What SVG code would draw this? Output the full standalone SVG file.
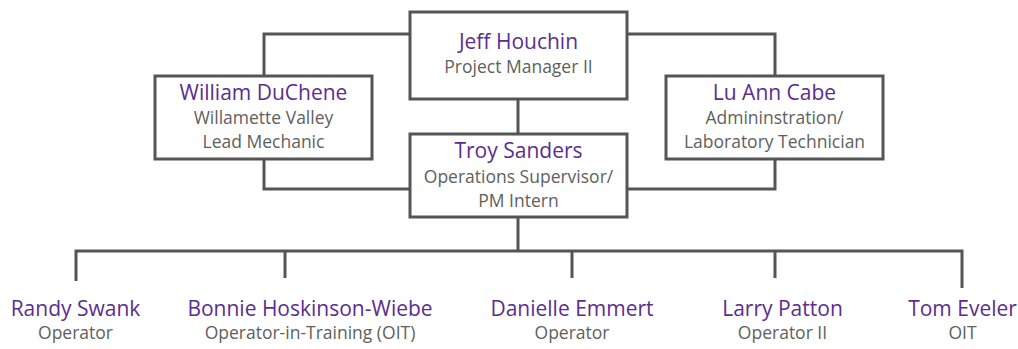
<svg xmlns="http://www.w3.org/2000/svg" width="1018" height="349" viewBox="0 0 1018 349">
  <style>
    .box { fill: #ffffff; stroke: #555555; stroke-width: 3; }
    .link { fill: none; stroke: #555555; stroke-width: 3; }
    .name { font-family: "Open Sans", "Liberation Sans", sans-serif; font-size: 21px; fill: #5b2d91; text-anchor: middle; }
    .role { font-family: "Open Sans", "Liberation Sans", sans-serif; font-size: 17.5px; fill: #606060; text-anchor: middle; }
  </style>
  <rect width="1018" height="349" fill="#ffffff"/>

  <g id="connectors">
    <polyline class="link" points="410,34 264,34 264,76"/>
    <polyline class="link" points="627,34 775,34 775,76"/>
    <line class="link" x1="518" y1="99" x2="518" y2="134"/>
    <polyline class="link" points="264,159 264,189 410,189"/>
    <polyline class="link" points="775,159 775,189 627,189"/>
    <line class="link" x1="518" y1="217" x2="518" y2="251"/>
    <polyline class="link" points="76,281 76,251 962,251 962,288"/>
    <line class="link" x1="285" y1="251" x2="285" y2="278"/>
    <line class="link" x1="572" y1="251" x2="572" y2="278"/>
    <line class="link" x1="775" y1="251" x2="775" y2="278"/>
  </g>

  <g id="jeff-houchin">
    <rect class="box" x="410" y="12" width="217" height="87"/>
    <text class="name" x="518.5" y="49">Jeff Houchin</text>
    <text class="role" x="518.5" y="73">Project Manager II</text>
  </g>

  <g id="william-duchene">
    <rect class="box" x="155" y="76" width="217" height="83"/>
    <text class="name" x="263.5" y="100">William DuChene</text>
    <text class="role" x="263.5" y="124">Willamette Valley</text>
    <text class="role" x="263.5" y="148">Lead Mechanic</text>
  </g>

  <g id="lu-ann-cabe">
    <rect class="box" x="666" y="76" width="217" height="83"/>
    <text class="name" x="774.5" y="100">Lu Ann Cabe</text>
    <text class="role" x="774.5" y="124">Admininstration/</text>
    <text class="role" x="774.5" y="148">Laboratory Technician</text>
  </g>

  <g id="troy-sanders">
    <rect class="box" x="410" y="134" width="217" height="83"/>
    <text class="name" x="518.5" y="158">Troy Sanders</text>
    <text class="role" x="518.5" y="183">Operations Supervisor/</text>
    <text class="role" x="518.5" y="207">PM Intern</text>
  </g>

  <g id="randy-swank">
    <text class="name" x="75.5" y="316">Randy Swank</text>
    <text class="role" x="75.5" y="339">Operator</text>
  </g>

  <g id="bonnie-hoskinson-wiebe">
    <text class="name" x="310" y="316">Bonnie Hoskinson-Wiebe</text>
    <text class="role" x="310" y="339">Operator-in-Training (OIT)</text>
  </g>

  <g id="danielle-emmert">
    <text class="name" x="572" y="316">Danielle Emmert</text>
    <text class="role" x="572" y="339">Operator</text>
  </g>

  <g id="larry-patton">
    <text class="name" x="782.5" y="316">Larry Patton</text>
    <text class="role" x="782.5" y="339">Operator II</text>
  </g>

  <g id="tom-eveler">
    <text class="name" x="962.5" y="316">Tom Eveler</text>
    <text class="role" x="962.5" y="339">OIT</text>
  </g>
</svg>
